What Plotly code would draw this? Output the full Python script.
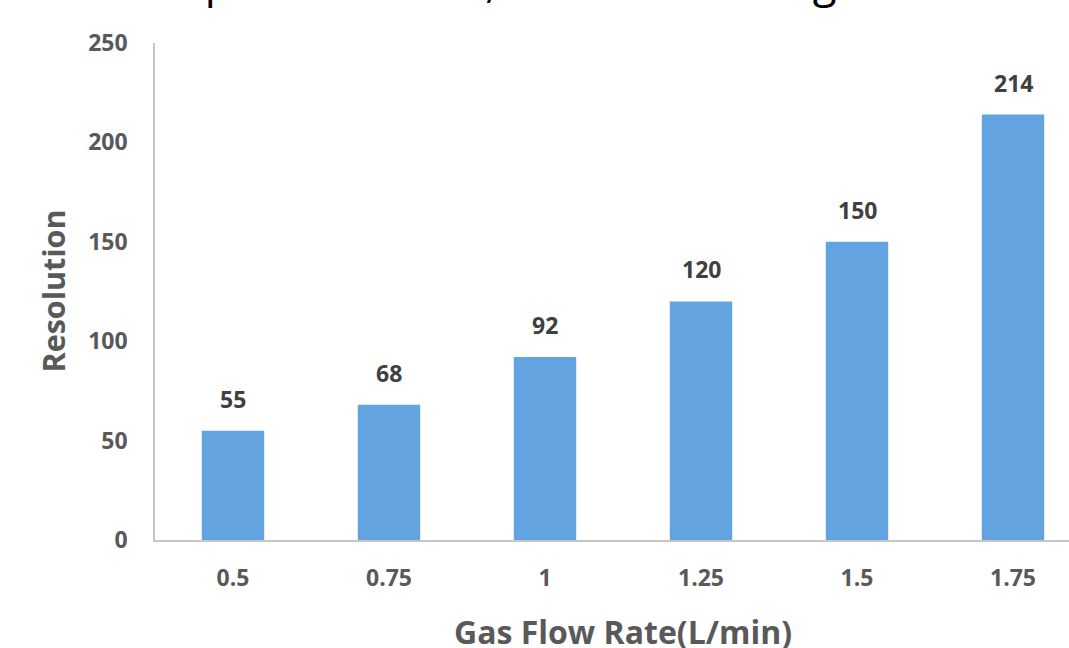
import plotly.graph_objects as go

# Data
flow_rates = ["0.5", "0.75", "1", "1.25", "1.5", "1.75"]
resolution = [55, 68, 92, 120, 150, 214]
y_ticks = [0, 50, 100, 150, 200, 250]

title_text = "Sample resolution, at each carrier gas flow"
x_title = "Gas Flow Rate(L/min)"
y_title = "Resolution"

BAR = "#62A3E0"
LABEL = "#404040"
TICK = "#595959"
AXIS = "#C6C6C6"
FONT = "Open Sans"

fig = go.Figure()
fig.add_trace(go.Bar(
    x=flow_rates,
    y=resolution,
    width=0.4,
    marker=dict(color=BAR, line=dict(width=0)),
    hoverinfo="x+y",
))

# value labels above bars (category index positions)
for i, v in enumerate(resolution):
    fig.add_annotation(
        x=i, y=v, xref="x", yref="y",
        text=str(v), showarrow=False,
        yanchor="bottom", yshift=14,
        font=dict(family=FONT, size=23, color=LABEL, weight="bold"),
    )

# axis titles
fig.add_annotation(
    x=2.5, y=0, xref="x", yref="paper",
    text=x_title, showarrow=False,
    yanchor="middle", yshift=-91,
    font=dict(family=FONT, size=32, color=TICK, weight="bold"),
)
fig.add_annotation(
    x=(52 - 155) / 914, y=0.5, xref="paper", yref="paper",
    text=y_title, showarrow=False, textangle=-90,
    xanchor="center", yanchor="middle",
    font=dict(family=FONT, size=30.5, color=TICK, weight="bold"),
)

# heading sitting above the top edge of the page
fig.add_annotation(
    x=(114 - 155) / 914, y=1, xref="paper", yref="paper",
    text=title_text, showarrow=False,
    xanchor="left", yanchor="bottom", yshift=31,
    font=dict(family=FONT, size=43.7, color="#000000"),
)

fig.update_layout(
    width=1069, height=648,
    margin=dict(l=155, r=0, t=43, b=108, pad=0),
    paper_bgcolor="white", plot_bgcolor="white",
    showlegend=False,
    bargap=0.6,
    font=dict(family=FONT),
)
fig.update_xaxes(
    type="category",
    range=[-0.5, -0.5 + 914 / 156],
    showline=True, linecolor=AXIS, linewidth=1.5,
    showgrid=False, zeroline=False, ticks="",
    ticklabelstandoff=17,
    tickfont=dict(family=FONT, size=23, color=TICK, weight="bold"),
)
fig.update_yaxes(
    range=[0, 250],
    tickvals=y_ticks,
    showline=True, linecolor=AXIS, linewidth=1.5,
    showgrid=False, zeroline=False, ticks="",
    ticklabelstandoff=21,
    tickfont=dict(family=FONT, size=23, color=TICK, weight="bold"),
)

fig.write_html("out.html")
